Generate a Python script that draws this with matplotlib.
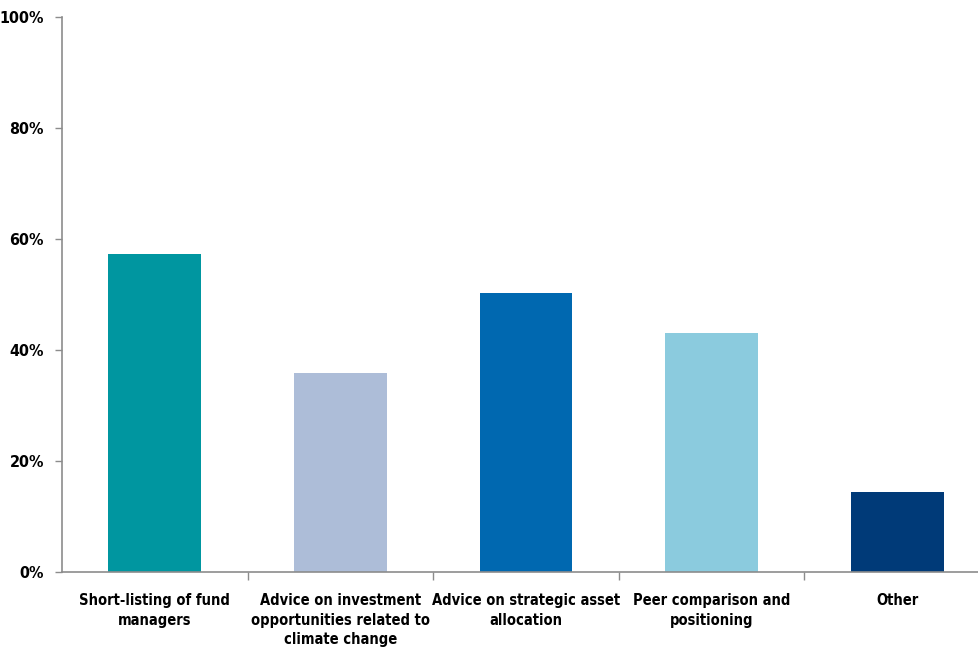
import matplotlib
matplotlib.use("Agg")
import matplotlib.pyplot as plt
from matplotlib.ticker import FuncFormatter

categories = ["Short-listing of fund\nmanagers",
              "Advice on investment\nopportunities related to\nclimate change",
              "Advice on strategic asset\nallocation",
              "Peer comparison and\npositioning",
              "Other"]
values = [57.3, 35.9, 50.3, 43.1, 14.4]
colors = ["#0096A0", "#ADBDD8", "#0068B0", "#8BCBDE", "#003A78"]
yticks = [0, 20, 40, 60, 80, 100]

plt.rcParams['font.family'] = ['DejaVu Sans']
plt.rcParams['font.stretch'] = 'condensed'

fig = plt.figure(figsize=(9.79, 6.48), dpi=100)
ax = fig.add_axes([62/979, 76/648, 928/979, 555/648])
x = list(range(len(categories)))
ax.bar(x, values, width=0.5, color=colors)
ax.set_xlim(-0.5, 4.5)
ax.set_ylim(0, 100)
ax.set_yticks(yticks)
ax.yaxis.set_major_formatter(FuncFormatter(lambda v, p: f"{int(v)}%"))
for lab in ax.get_yticklabels():
    lab.set_fontweight('bold')
    lab.set_fontstretch('condensed')
ax.tick_params(axis='y', labelsize=11.5, length=5, width=1, color='#8c8c8c', pad=8)
ax.set_xticks([i + 0.5 for i in range(len(categories) - 1)])
ax.set_xticklabels([])
ax.tick_params(axis='x', length=6, width=1, color='#8c8c8c')
for i, c in enumerate(categories):
    ax.text(i, -3.8, c, ha='center', va='top', fontsize=10.5, fontweight='bold',
            fontstretch='condensed', linespacing=1.38, clip_on=False)
for s in ['top', 'right']:
    ax.spines[s].set_visible(False)
for s in ['left', 'bottom']:
    ax.spines[s].set_color('#8c8c8c')
    ax.spines[s].set_linewidth(1.2)
fig.savefig("out.png", dpi=100)
